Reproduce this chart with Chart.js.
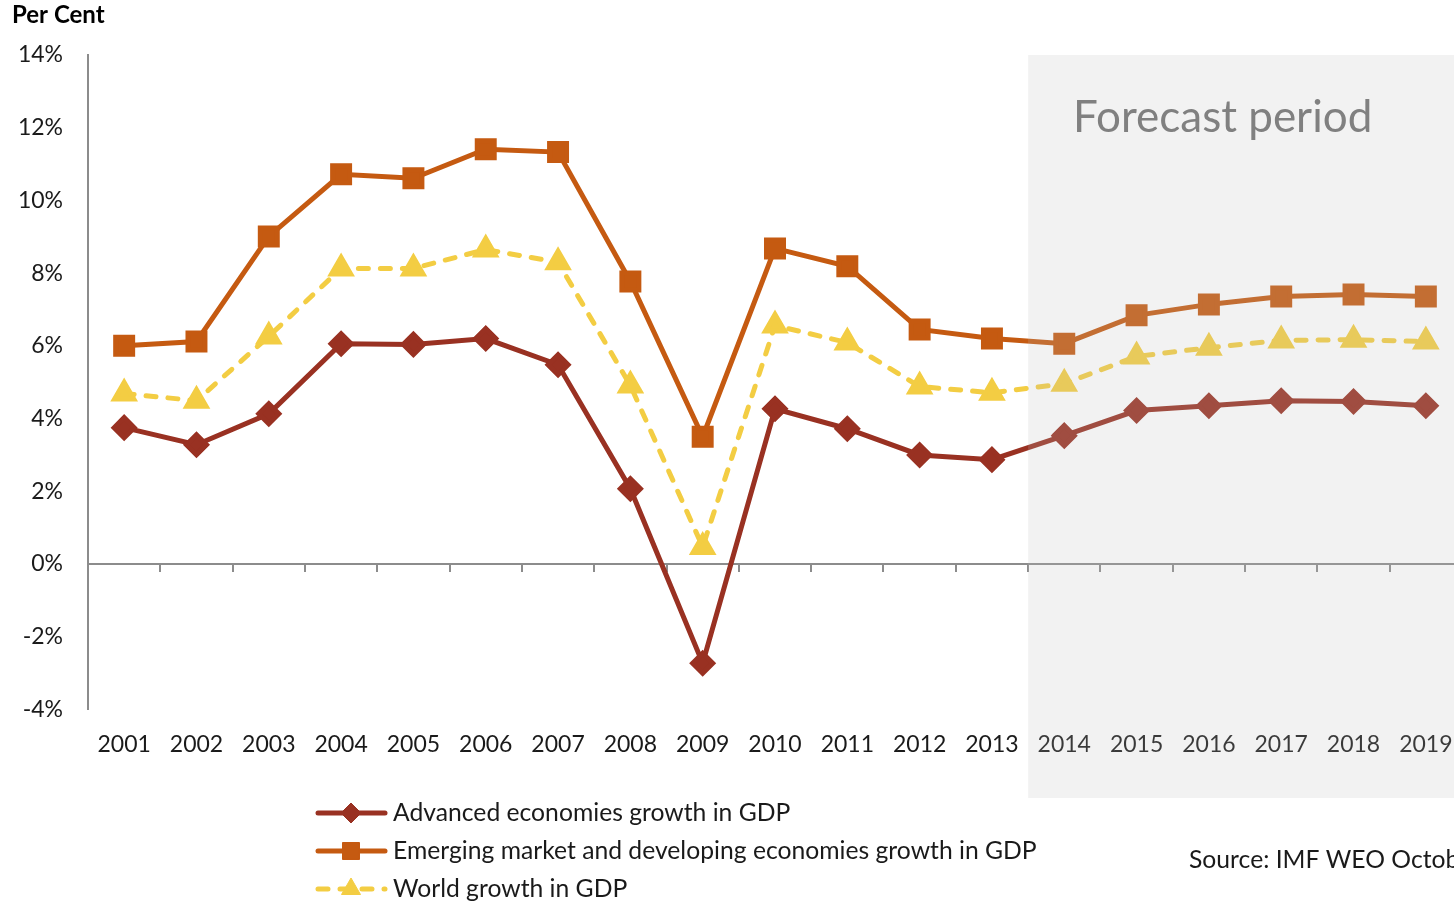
<!DOCTYPE html>
<html>
<head>
<meta charset="utf-8">
<script src="https://cdn.jsdelivr.net/npm/chart.js@4"></script>
<style>
  html, body { margin: 0; padding: 0; background: #fff; overflow: hidden; }
  #wrap { width: 1471px; height: 903px; }
  #gdpChart { display: block; width: 1471px; height: 903px; max-width: none; }
</style>
</head>
<body>
<div id="wrap"><canvas id="gdpChart" width="1471" height="903"></canvas></div>
<script>
const years = ['2001', '2002', '2003', '2004', '2005', '2006', '2007', '2008', '2009', '2010',
  '2011', '2012', '2013', '2014', '2015', '2016', '2017', '2018', '2019'];
const advanced = [3.75, 3.28, 4.13, 6.06, 6.04, 6.2, 5.48, 2.07, -2.73, 4.27,
  3.72, 3.0, 2.87, 3.53, 4.22, 4.35, 4.49, 4.47, 4.35];
const emerging = [6.0, 6.12, 9.01, 10.72, 10.61, 11.41, 11.33, 7.77, 3.5, 8.68,
  8.19, 6.45, 6.2, 6.06, 6.84, 7.14, 7.36, 7.41, 7.36];
const world = [4.69, 4.49, 6.26, 8.13, 8.13, 8.65, 8.3, 4.91, 0.47, 6.56,
  6.09, 4.88, 4.71, 4.96, 5.71, 5.95, 6.15, 6.17, 6.12];
const firstForecastYear = '2014';
const forecastLabel = 'Forecast period';
const unitLabel = 'Per Cent';
const sourceNote = 'Source: IMF WEO October 2014';

const FONT = 'Lato, "Open Sans", sans-serif';
const AXIS_GREY = '#8c8c8c';
Chart.defaults.font.family = FONT;
Chart.defaults.font.size = 23;
Chart.defaults.color = '#1a1a1a';

// grey band over the forecast years, plus its caption
const forecastShade = {
  id: 'forecastShade',
  afterDraw(chart) {
    const { ctx, chartArea, scales } = chart;
    const i = years.indexOf(firstForecastYear);
    const x0 = (scales.x.getPixelForValue(i - 1) + scales.x.getPixelForValue(i)) / 2;
    ctx.save();
    ctx.fillStyle = 'rgba(190,190,190,0.2)';
    ctx.fillRect(x0, chartArea.top, chart.width - x0, 798 - chartArea.top);
    ctx.fillStyle = '#808080';
    ctx.font = '44px ' + FONT;
    ctx.textBaseline = 'middle';
    ctx.fillText(forecastLabel, 1073, 118);
    ctx.restore();
  }
};

// unit title, source note and the stacked legend below the plot
const extras = {
  id: 'extras',
  afterDraw(chart) {
    const { ctx } = chart;
    ctx.save();
    ctx.fillStyle = '#000';
    ctx.textBaseline = 'middle';
    ctx.font = 'bold 24px ' + FONT;
    ctx.fillText(unitLabel, 12, 15);
    ctx.font = '24.7px ' + FONT;
    ctx.fillStyle = '#1a1a1a';
    ctx.fillText(sourceNote, 1189, 860);

    chart.data.datasets.forEach((ds, k) => {
      const y = 813 + k * 38;
      ctx.save();
      ctx.strokeStyle = ds.borderColor;
      ctx.lineWidth = ds.borderWidth;
      ctx.lineCap = 'round';
      if (ds.borderDash) ctx.setLineDash(ds.borderDash);
      ctx.beginPath();
      ctx.moveTo(318, y);
      ctx.lineTo(385, y);
      ctx.stroke();
      ctx.restore();
      ctx.fillStyle = ds.pointBackgroundColor;
      ctx.strokeStyle = ds.pointBackgroundColor;
      Chart.helpers.drawPoint(ctx, { pointStyle: ds.pointStyle, radius: ds.pointRadius, rotation: 0, borderWidth: 1 }, 351, y);
      ctx.fillStyle = '#1a1a1a';
      ctx.fillText(ds.label, 393, y);
    });
    ctx.restore();
  }
};

// category labels sit inside their slots, so no extra edge padding is needed
const noEdgePadding = (scale) => {
  scale.paddingLeft = 0;
  scale.paddingRight = 0;
};

new Chart(document.getElementById('gdpChart'), {
  type: 'line',
  data: {
    labels: years,
    datasets: [
      {
        label: 'Advanced economies growth in GDP',
        data: advanced,
        borderColor: '#993122',
        pointBackgroundColor: '#993122',
        pointBorderColor: '#993122',
        borderWidth: 5,
        pointStyle: 'rectRot',
        pointRadius: 10,
        order: 1,
      },
      {
        label: 'Emerging market and developing economies growth in GDP',
        data: emerging,
        borderColor: '#c55a11',
        pointBackgroundColor: '#c55a11',
        pointBorderColor: '#c55a11',
        borderWidth: 5,
        pointStyle: 'rect',
        pointRadius: 12,
        order: 2,
      },
      {
        label: 'World growth in GDP',
        data: world,
        borderColor: '#f3cd43',
        pointBackgroundColor: '#f3cd43',
        pointBorderColor: '#f3cd43',
        borderWidth: 5,
        borderDash: [10, 12],
        borderCapStyle: 'round',
        pointStyle: 'triangle',
        pointRadius: 11,
        order: 3,
      },
    ],
  },
  options: {
    responsive: false,
    animation: false,
    layout: { autoPadding: false, padding: { left: 0, top: 55, right: 9, bottom: 132 } },
    plugins: { legend: { display: false }, tooltip: { enabled: false } },
    elements: { line: { tension: 0 }, point: { borderWidth: 1, hoverRadius: 10 } },
    scales: {
      x: {
        type: 'category',
        position: 'bottom',
        offset: true,
        grid: { display: false },
        border: { display: false },
        ticks: { autoSkip: false, maxRotation: 0, padding: 13 },
        afterFit: noEdgePadding,
      },
      x0: {
        type: 'category',
        position: { y: 0 },
        offset: true,
        grid: { display: true, drawOnChartArea: false, offset: true, tickLength: 7, color: AXIS_GREY, lineWidth: 2 },
        border: { display: true, color: AXIS_GREY, width: 2 },
        ticks: { display: false },
        afterFit: noEdgePadding,
      },
      y: {
        min: -4,
        max: 14,
        grid: { display: false },
        border: { display: true, color: AXIS_GREY, width: 2 },
        ticks: { stepSize: 2, padding: 17, callback: (v) => v + '%' },
        afterFit: (scale) => { scale.width = 88; },
      },
    },
  },
  plugins: [forecastShade, extras],
});
</script>
</body>
</html>
